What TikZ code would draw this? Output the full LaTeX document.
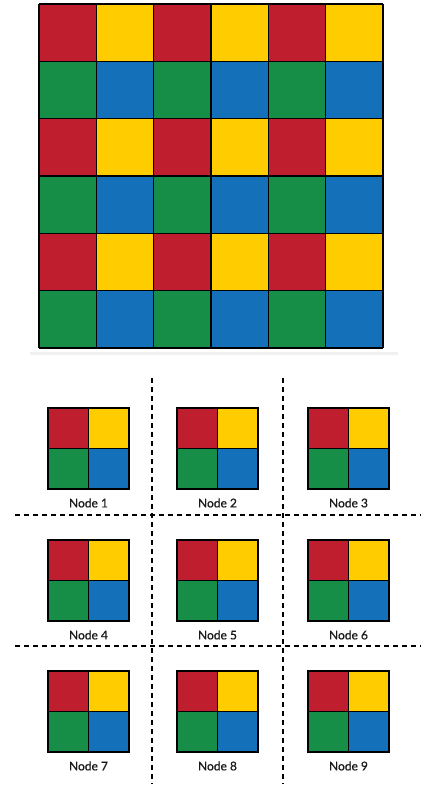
\documentclass[tikz,border=0pt]{standalone}
\usepackage{fontspec}
\setmainfont{Lato}
\newfontfamily\lblfont{Lato}[FakeBold=0.8]
\usetikzlibrary{positioning}
\definecolor{cred}{RGB}{190,30,45}
\definecolor{cyel}{RGB}{255,204,0}
\definecolor{cgrn}{RGB}{22,142,72}
\definecolor{cblu}{RGB}{21,112,186}
\tikzset{
  cell/.style={draw=black,line width=1.5pt},
  sepline/.style={line width=2.6pt,dash pattern=on 5pt off 4pt},
  lbl/.style={font=\lblfont\fontsize{12}{14}\selectfont,text=black!90,inner sep=1pt}
}
% one 2x2 block with its caption
\newcommand{\block}[4]{%
  \fill[cred] (#1,#2) rectangle ++(40.5,40.5);
  \fill[cyel] (#1+40.5,#2) rectangle ++(40.5,40.5);
  \fill[cgrn] (#1,#2+40.5) rectangle ++(40.5,40.5);
  \fill[cblu] (#1+40.5,#2+40.5) rectangle ++(40.5,40.5);
  \draw[cell] (#1,#2) rectangle ++(81,81);
  \draw[cell] (#1+40.5,#2) -- ++(0,81);
  \draw[cell] (#1,#2+40.5) -- ++(81,0);
  \node[lbl] (n#3) at (#1+40.5,#2+95) {#4};
}
\begin{document}
\begin{tikzpicture}[x=1pt,y=-1pt,line cap=butt,line join=miter]
\useasboundingbox (0,0) rectangle (428,792);
% big board
\draw[gray!12,line width=3pt] (30,353) -- (398,353);
\foreach \r in {0,...,5}{
  \foreach \c in {0,...,5}{
    \pgfmathsetmacro{\k}{int(mod(\r,2)*2+mod(\c,2))}
    \ifcase\k\relax \def\col{cred}\or \def\col{cyel}\or \def\col{cgrn}\or \def\col{cblu}\fi
    \fill[\col] (39+\c*57.33,4+\r*57.33) rectangle ++(57.33,57.33);
  }
}
\foreach \i in {0,...,6}{
  \draw[cell] (39+\i*57.33,4) -- ++(0,344);
  \draw[cell] (39,4+\i*57.33) -- ++(344,0);
}
% dashed separators
\draw[sepline] (152,378) -- (152,784);
\draw[sepline] (283,378) -- (283,784);
\draw[sepline] (15,515) -- (421,515);
\draw[sepline] (15,646) -- (421,646);
% nine blocks
\block{48}{408}{1}{Node 1}
\block{177}{408}{2}{Node 2}
\block{308}{408}{3}{Node 3}
\block{48}{540}{4}{Node 4}
\block{177}{540}{5}{Node 5}
\block{308}{540}{6}{Node 6}
\block{48}{671}{7}{Node 7}
\block{177}{671}{8}{Node 8}
\block{308}{671}{9}{Node 9}
\end{tikzpicture}
\end{document}
